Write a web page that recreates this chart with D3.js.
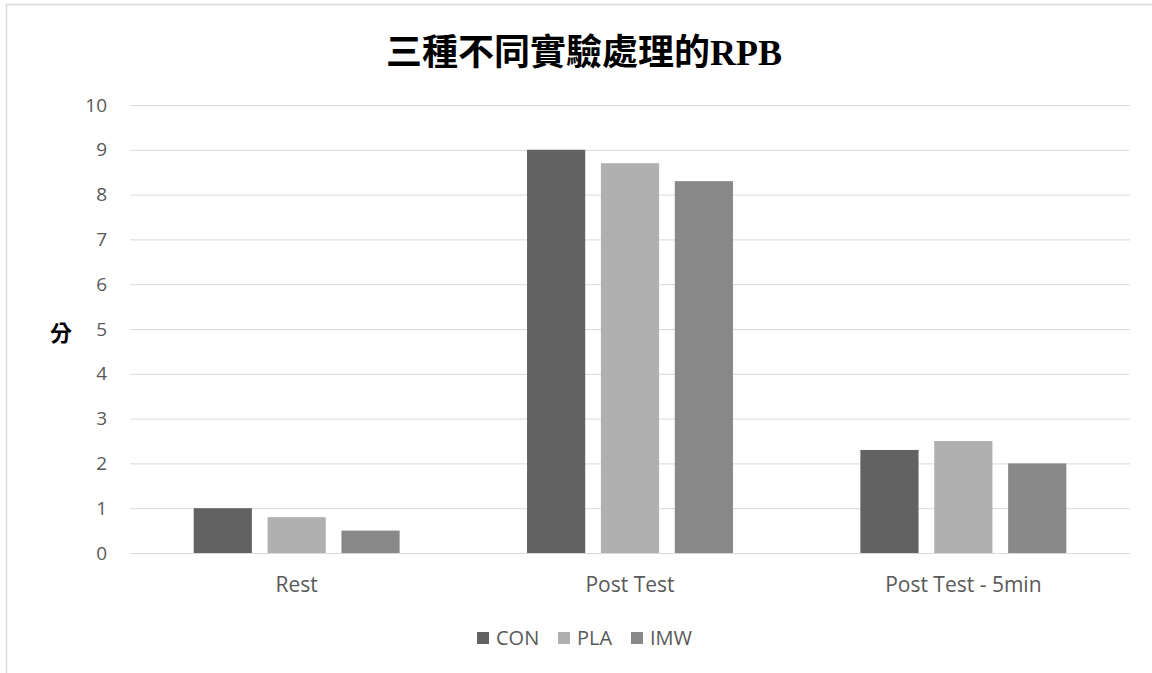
<!DOCTYPE html>
<html>
<head>
<meta charset="utf-8">
<script src="https://cdn.jsdelivr.net/npm/d3@7"></script>
<style>
  html, body { margin: 0; padding: 0; background: #fff; }
  svg { display: block; }
</style>
</head>
<body>
<svg id="chart" width="1152" height="673"></svg>
<script>
// Chart data
const categories = ["Rest", "Post Test", "Post Test - 5min"];
const seriesNames = ["CON", "PLA", "IMW"];
const conValues = [1.0, 9.0, 2.3];
const plaValues = [0.8, 8.7, 2.5];
const imwValues = [0.5, 8.3, 2.0];
const yTicks = [0, 1, 2, 3, 4, 5, 6, 7, 8, 9, 10];
const titleText = "三種不同實驗處理的RPB";
const yLabel = "分";

const seriesValues = [conValues, plaValues, imwValues];
const colors = ["#626262", "#b0b0b0", "#888888"];
const labelFont = "'Open Sans', 'Liberation Sans', sans-serif";

const svg = d3.select("#chart");
const W = 1152, H = 673;
const margin = { left: 130, right: 22, top: 105, bottom: 120 };
const plotW = W - margin.left - margin.right;
const plotH = H - margin.top - margin.bottom;

// Chart frame
svg.append("path")
  .attr("d", `M6.5,${H} L6.5,4.5 L${W},4.5`)
  .attr("fill", "none")
  .attr("stroke", "#d9d9d9")
  .attr("stroke-width", 1.5);

const g = svg.append("g").attr("transform", `translate(${margin.left},${margin.top})`);

const y = d3.scaleLinear().domain([0, 10]).range([plotH, 0]);
const x0 = d3.scaleBand().domain(categories).range([0, plotW]).paddingInner(0).paddingOuter(0);

// Bar geometry: gap width 219%, overlap -27%
const gapRatio = 2.19, overlap = -0.27;
const barW = x0.bandwidth() / (3 + 2 * (-overlap) + gapRatio);
const step = barW * (1 - overlap);
const groupStart = barW * gapRatio / 2;

// Gridlines
g.append("g")
  .attr("class", "grid")
  .call(d3.axisLeft(y).tickValues(yTicks).tickSize(-plotW).tickFormat(""))
  .call(s => s.select(".domain").remove())
  .call(s => s.selectAll("line").attr("stroke", "#d9d9d9").attr("stroke-width", 1));

// Y axis labels
g.append("g")
  .call(d3.axisLeft(y).tickValues(yTicks).tickSize(0).tickPadding(23).tickFormat(d3.format("d")))
  .call(s => s.select(".domain").remove())
  .call(s => s.selectAll("text")
    .attr("fill", "#595959")
    .style("font-family", labelFont)
    .style("font-size", "19px"));

// Bars
seriesNames.forEach((name, si) => {
  g.append("g")
    .selectAll("rect")
    .data(categories.map((c, ci) => ({ c, v: seriesValues[si][ci] })))
    .join("rect")
    .attr("x", d => x0(d.c) + groupStart + si * step)
    .attr("y", d => y(d.v))
    .attr("width", barW)
    .attr("height", d => y(0) - y(d.v))
    .attr("fill", colors[si]);
});

// Category axis labels
g.append("g")
  .attr("transform", `translate(0,${plotH})`)
  .call(d3.axisBottom(x0).tickSize(0).tickPadding(24))
  .call(s => s.select(".domain").remove())
  .call(s => s.selectAll("text")
    .attr("fill", "#595959")
    .style("font-family", labelFont)
    .style("font-size", "21px"));

// Title
svg.append("text")
  .attr("x", 584)
  .attr("y", 65)
  .attr("text-anchor", "middle")
  .style("font-family", "'Liberation Serif', 'Noto Sans CJK TC', serif")
  .style("font-weight", "bold")
  .style("font-size", "36px")
  .attr("fill", "#000")
  .text(titleText);

// Y axis title
svg.append("text")
  .attr("x", 61)
  .attr("y", 341)
  .attr("text-anchor", "middle")
  .style("font-family", "'Noto Sans CJK TC', sans-serif")
  .style("font-weight", "bold")
  .style("font-size", "22px")
  .attr("fill", "#000")
  .text(yLabel);

// Legend
const legendX = [477, 558, 631];
const legend = svg.append("g");
seriesNames.forEach((name, i) => {
  legend.append("rect")
    .attr("x", legendX[i]).attr("y", 632)
    .attr("width", 12).attr("height", 12)
    .attr("fill", colors[i]);
  legend.append("text")
    .attr("x", legendX[i] + 19).attr("y", 645)
    .attr("fill", "#595959")
    .style("font-family", labelFont)
    .style("font-size", "20px")
    .text(name);
});
</script>
</body>
</html>
